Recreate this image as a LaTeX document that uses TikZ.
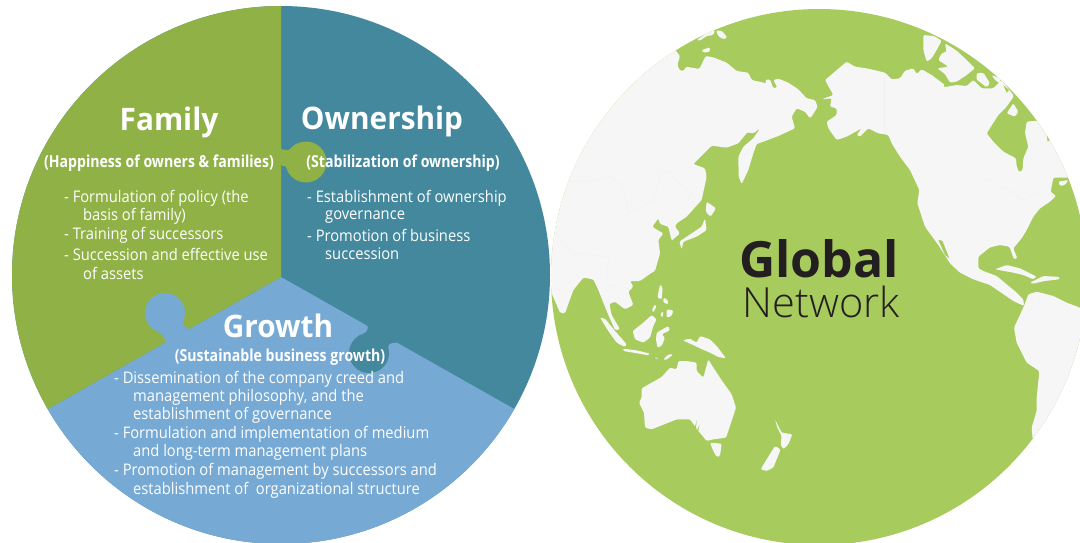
\documentclass[tikz,border=0pt]{standalone}
\usepackage{fontspec}
\setmainfont{Open Sans}
\newfontfamily\bodyf[FakeStretch=0.92]{Open Sans}
\newfontfamily\subf[FakeStretch=0.855]{Open Sans}
\newfontfamily\titlef[FakeStretch=0.96]{Open Sans}
\newfontfamily\lightf{Open Sans Light}
\definecolor{famgreen}{HTML}{8FB146}
\definecolor{ownteal}{HTML}{44889E}
\definecolor{growblue}{HTML}{76A9D4}
\definecolor{seagreen}{HTML}{A8CB5E}
\definecolor{landwhite}{HTML}{F6F6F6}
\definecolor{inkdark}{HTML}{231F20}
\tikzset{
  ttl/.style={text=white,font=\titlef\bfseries\fontsize{31}{31}\selectfont,inner sep=0pt},
  subt/.style={text=white,font=\subf\bfseries\fontsize{16.5}{17}\selectfont,inner sep=0pt},
  ln/.style={text=white,font=\bodyf\fontsize{16}{17}\selectfont,inner sep=0pt,anchor=west},
  land/.style={fill=landwhite,draw=none,rounded corners=1.3pt},
  sea/.style={fill=seagreen,draw=none},
  border/.style={draw=black!6,line width=0.3pt,rounded corners=1pt}
}
\begin{document}
\begin{tikzpicture}[x=1pt,y=-1pt]
\useasboundingbox (0,0) rectangle (1080,542);
\fill[white] (0,0) rectangle (1080,542);
% ---- left circle
\begin{scope}
\clip (281,275) circle[radius=269];
\fill[ownteal] (0,0) rectangle (560,560);
\fill[growblue] (281,277) -- (-60,470) -- (-60,600) -- (622,600) -- (622,470) -- cycle;
\fill[famgreen] (281,277) -- (-60,470) -- (-60,-10) -- (281,-10) -- cycle;
\end{scope}
% knobs
\fill[famgreen] (306,162) circle[radius=20.5];
\fill[famgreen] (280,148) .. controls (286,152) and (292,150) .. (296,144) -- (296,178) .. controls (292,170) and (287,166) .. (280,165) -- cycle;
\fill[growblue] (165,313) circle[radius=20];
\fill[growblue] (193,330) .. controls (186,329) and (183,326) .. (182,321) -- (158,332) .. controls (162,335) and (166,338) .. (165,342) -- (180,345) -- cycle;
\fill[ownteal] (369,353) circle[radius=20];
\fill[ownteal] (366,323) .. controls (370,328) and (368,333) .. (358,336) -- (388,348) .. controls (388,345) and (390,342) .. (396,343) -- (400,335) -- cycle;
% texts left
\node[ttl] (famT) at (169,122) {Family};
\node[ttl] (ownT) at (382,121) {Ownership};
\node[ttl] (groT) at (278,326) {Growth};
\node[subt] (famS) at (159,163) {(Happiness of owners \& families)};
\node[subt] (ownS) at (403,163) {(Stabilization of ownership)};
\node[subt] (groS) at (280,357) {(Sustainable business growth)};
\node[ln] (f1) at (64,198) {- Formulation of policy (the};
\node[ln] (f2) at (83,216) {basis of family)};
\node[ln] (f3) at (64,235) {- Training of successors};
\node[ln] (f4) at (64,254) {- Succession and effective use};
\node[ln] (f5) at (83,273) {of assets};
\node[ln] (o1) at (307,198) {- Establishment of ownership};
\node[ln] (o2) at (325,217) {governance};
\node[ln] (o3) at (307,235) {- Promotion of business};
\node[ln] (o4) at (325,254) {succession};
\node[ln] (g1) at (114,379) {- Dissemination of the company creed and};
\node[ln] (g2) at (133,397) {management philosophy, and the};
\node[ln] (g3) at (133,415) {establishment of governance};
\node[ln] (g4) at (114,434) {- Formulation and implementation of medium};
\node[ln] (g5) at (133,452) {and long-term management plans};
\node[ln] (g6) at (114,471) {- Promotion of management by successors and};
\node[ln] (g7) at (133,490) {establishment of\ \ organizational structure};
% ---- globe
\begin{scope}
\clip (819,277) circle[radius=268];
\fill[seagreen] (540,0) rectangle (1090,550);
\begin{scope}[shift={(540pt,0pt)},x=0.33333pt,y=-0.33333pt]
% Asia
\fill[land] (380,90) -- (406,150) -- (420,168) -- (412,195) -- (420,212) -- (432,212) -- (438,200) -- (478,207) -- (497,168) -- (520,172) -- (560,188) -- (590,213) -- (625,218) -- (635,240) -- (680,250) -- (675,240) -- (690,238) -- (700,265) -- (712,262) -- (700,240) -- (715,236) -- (745,248) -- (775,268) -- (800,295) -- (825,300) -- (833,320) -- (818,345) -- (810,355) -- (795,335) -- (770,325) -- (755,350) -- (765,385) -- (715,408) -- (670,425) -- (650,432) -- (640,460) -- (625,510) -- (605,552) -- (596,530) -- (595,470) -- (610,440) -- (640,415) -- (660,385) -- (640,400) -- (622,397) -- (595,430) -- (560,443) -- (515,437) -- (460,492) -- (495,505) -- (500,530) -- (485,600) -- (440,650) -- (410,670) -- (405,680) -- (420,700) -- (395,722) -- (385,680) -- (360,672) -- (355,655) -- (337,680) -- (352,690) -- (370,700) -- (355,720) -- (360,760) -- (345,813) -- (335,818) -- (300,843) -- (270,843) -- (280,860) -- (265,875) -- (280,915) -- (255,928) -- (225,905) -- (208,912) -- (215,945) -- (240,988) -- (225,990) -- (205,945) -- (175,870) -- (160,838) -- (130,833) -- (100,870) -- (75,940) -- (60,938) -- (35,880) -- (-20,850) -- (-50,600) -- (100,200) -- cycle;
\fill[land] (528,92) -- (545,92) -- (562,112) -- (550,118) -- (535,108) -- cycle;
\fill[land] (485,150) -- (510,142) -- (510,155) -- (490,158) -- cycle;
\fill[land] (470,120) -- (500,100) -- (525,90) -- (520,105) -- (500,108) -- (480,122) -- cycle;
% faint borders
\draw[border] (50,650) -- (85,540) -- (140,545) -- (210,530) -- (250,560) -- (265,640) -- (340,600) -- (350,575) -- (360,520) -- (385,510) -- (415,550) -- (455,575) -- (440,610);
\draw[border] (40,690) -- (100,760) -- (210,770) -- (200,813) -- (205,860) -- (240,850);
% Japan
\fill[land] (500,605) -- (528,625) -- (512,650) -- (497,635) -- cycle;
\fill[land] (495,655) -- (500,690) -- (470,710) -- (430,725) -- (425,748) -- (418,725) -- (440,710) -- (470,690) -- (485,680) -- cycle;
\begin{scope}[shift={(0,813)}]
% SE Asia
\fill[land] (180,140) -- (195,143) -- (225,180) -- (260,220) -- (255,228) -- (230,215) -- (205,180) -- cycle;
\fill[land] (248,233) -- (290,238) -- (330,248) -- (325,253) -- (280,245) -- (250,240) -- cycle;
\fill[land] (343,258) -- (355,262) -- (350,265) -- cycle;
\fill[land] (370,265) -- (385,250) -- (400,250) -- (385,262) -- (375,268) -- cycle;
\fill[land] (278,180) -- (310,155) -- (335,132) -- (350,145) -- (340,165) -- (330,200) -- (310,215) -- (285,205) -- cycle;
\fill[land] (350,185) -- (385,165) -- (390,178) -- (365,190) -- (375,200) -- (365,225) -- (352,230) -- (348,205) -- cycle;
\fill[land] (352,80) -- (360,40) -- (368,50) -- (365,85) -- cycle;
\fill[land] (370,80) -- (382,85) -- (385,100) -- (370,95) -- cycle;
\fill[land] (380,115) -- (400,118) -- (395,135) -- (380,140) -- cycle;
\fill[land] (335,118) -- (345,100) -- (350,105) -- (340,125) -- cycle;
\fill[land] (360,130) -- (370,120) -- (368,140) -- cycle;
% New Guinea
\fill[land] (428,208) -- (450,203) -- (470,215) -- (480,195) -- (510,205) -- (530,225) -- (558,262) -- (535,258) -- (510,245) -- (480,232) -- (455,220) -- cycle;
% Australia
\fill[land] (305,352) -- (365,318) -- (390,290) -- (410,295) -- (415,270) -- (440,270) -- (470,275) -- (470,300) -- (490,320) -- (505,265) -- (520,290) -- (550,335) -- (575,370) -- (588,410) -- (565,480) -- (558,500) -- (520,505) -- (500,510) -- (475,480) -- (450,445) -- (410,445) -- (385,455) -- (335,475) -- (315,470) -- (312,425) -- (297,395) -- (305,380) -- cycle;
\fill[sea] (462,478) -- (470,448) -- (468,470) -- cycle;
\fill[sea] (470,482) -- (478,462) -- (475,480) -- cycle;
\fill[land] (510,515) -- (545,518) -- (540,555) -- (530,558) -- (520,540) -- cycle;
% New Zealand
\fill[land] (705,445) -- (725,485) -- (757,490) -- (745,520) -- (730,535) -- (722,520) -- (725,495) -- (712,470) -- cycle;
\fill[land] (705,525) -- (722,535) -- (700,590) -- (680,600) -- (662,595) -- (680,565) -- cycle;
\end{scope}
% North America
\fill[land] (855,240) -- (920,185) -- (945,200) -- (980,205) -- (1035,218) -- (1055,238) -- (1080,235) -- (1095,212) -- (1120,205) -- (1130,222) -- (1145,208) -- (1175,225) -- (1215,255) -- (1210,262) -- (1250,255) -- (1280,258) -- (1300,240) -- (1325,265) -- (1360,265) -- (1385,240) -- (1422,288) -- (1400,320) -- (1375,345) -- (1340,400) -- (1360,425) -- (1390,455) -- (1428,475) -- (1430,500) -- (1438,517) -- (1448,510) -- (1450,475) -- (1465,440) -- (1455,400) -- (1460,365) -- (1490,362) -- (1560,400) -- (1620,530) -- (1585,533) -- (1540,533) -- (1532,575) -- (1548,588) -- (1530,605) -- (1500,625) -- (1480,650) -- (1460,690) -- (1445,715) -- (1420,745) -- (1432,775) -- (1422,778) -- (1408,740) -- (1380,735) -- (1350,742) -- (1315,770) -- (1315,805) -- (1330,813) -- (1370,828) -- (1400,853) -- (1430,878) -- (1450,898) -- (1452,918) -- (1420,903) -- (1350,855) -- (1300,838) -- (1260,818) -- (1230,790) -- (1195,735) -- (1155,680) -- (1132,610) -- (1138,570) -- (1110,510) -- (1080,470) -- (1055,430) -- (1045,405) -- (1015,400) -- (985,385) -- (960,410) -- (950,405) -- (965,385) -- (920,410) -- (890,420) -- (865,385) -- (860,365) -- (890,345) -- (890,325) -- (870,320) -- (875,295) -- (845,298) -- (880,285) -- cycle;
% South America
\fill[land] (1465,883) -- (1490,875) -- (1540,888) -- (1580,908) -- (1620,923) -- (1700,1000) -- (1700,1300) -- (1478,1318) -- (1475,1283) -- (1490,1233) -- (1490,1193) -- (1498,1113) -- (1460,1088) -- (1430,1028) -- (1422,983) -- (1452,918) -- cycle;
% Caribbean
\fill[land] (1365,808) -- (1400,795) -- (1440,805) -- (1490,830) -- (1480,838) -- (1450,825) -- (1420,818) -- cycle;
\fill[land] (1470,848) -- (1510,828) -- (1560,831) -- (1558,838) -- (1515,843) -- (1478,851) -- cycle;
\begin{scope}[shift={(810,0)}]
% Arctic islands
\fill[land] (340,105) -- (372,108) -- (395,122) -- (380,150) -- (365,175) -- (350,185) -- (340,150) -- cycle;
\fill[land] (405,130) -- (440,152) -- (470,180) -- (495,205) -- (470,225) -- (440,245) -- (420,248) -- (405,222) -- (382,205) -- (415,200) -- (385,180) -- (395,160) -- (410,155) -- cycle;
\fill[land] (500,220) -- (520,218) -- (540,250) -- (530,262) -- (515,250) -- (500,240) -- cycle;
\fill[land] (545,225) -- (570,235) -- (572,252) -- (555,240) -- cycle;
\fill[land] (590,340) -- (610,310) -- (625,335) -- (615,350) -- cycle;
% sea details
\fill[sea] (580,255) -- (597,270) -- (590,278) -- cycle;
\fill[sea] (710,405) -- (720,420) -- (713,425) -- cycle;
\fill[sea] (385,720) -- (397,722) -- (418,775) -- (405,765) -- cycle;
\fill[land] (745,545) -- (775,540) -- (765,555) -- (750,558) -- cycle;
% borders
\draw[border] (222,230) -- (222,390);
\draw[border] (315,540) -- (530,540) -- (590,565) -- (640,600) -- (700,565);
\end{scope}
\end{scope}
\end{scope}
\node[inner sep=0pt,text=inkdark,font=\fontsize{50}{50}\selectfont\bfseries] (glob) at (819,259) {Global};
\node[inner sep=0pt,text=inkdark,font=\lightf\fontsize{41.5}{41.5}\selectfont] (netw) at (821,302) {Network};
\end{tikzpicture}
\end{document}
